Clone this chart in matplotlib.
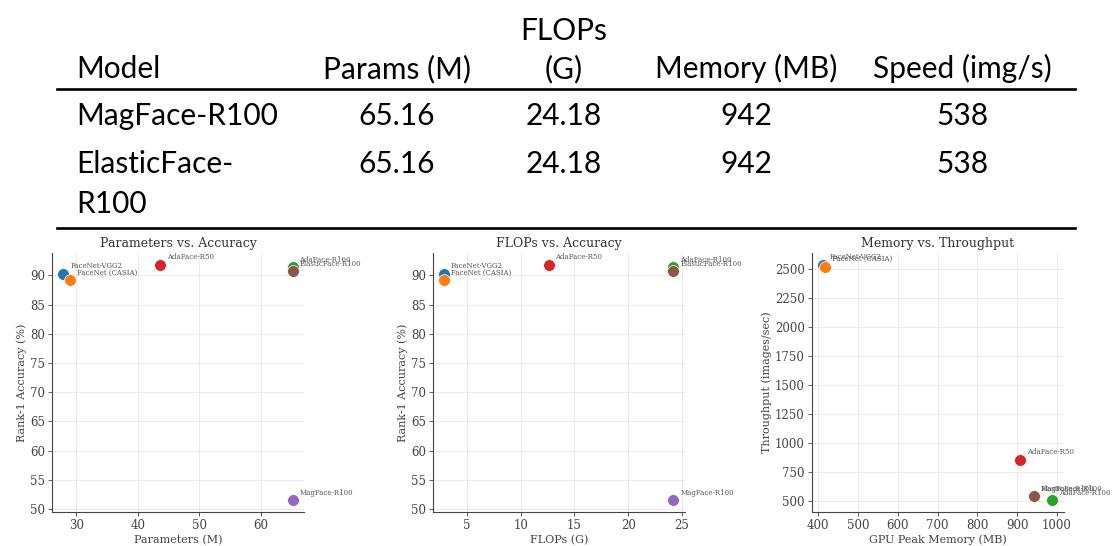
import matplotlib
matplotlib.use("Agg")
import matplotlib.pyplot as plt
from matplotlib.lines import Line2D

# model order follows the tab10 colour order in the plots
models = ['FaceNet-VGG2', 'FaceNet (CASIA)', 'AdaFace-R100', 'AdaFace-R50', 'MagFace-R100', 'ElasticFace-R100']
params = [27.9, 28.9, 65.16, 43.6, 65.16, 65.16]
flops = [2.9, 2.9, 24.18, 12.6, 24.18, 24.18]
accuracy = [90.3, 89.2, 91.4, 91.8, 51.5, 90.7]
memory = [413, 418, 988, 908, 942, 942]
throughput = [2537, 2520, 503, 853, 538, 538]

# table at the top
table_header = ['Model', 'Params (M)', 'FLOPs\n(G)', 'Memory (MB)', 'Speed (img/s)']
table_rows = [['MagFace-R100', '65.16', '24.18', '942', '538'],
              ['ElasticFace-\nR100', '65.16', '24.18', '942', '538']]

W, H = 1117, 546
fig = plt.figure(figsize=(W / 100, H / 100), dpi=100)

tfont = dict(family=['Lato', 'DejaVu Sans'], fontsize=21.5, color='black')
col_x = [76, 397, 564, 746, 962]


def fx(px):
    return px / W


def fy(py):
    return 1 - py / H


# header: last line of each cell on the same baseline
for i, txt in enumerate(table_header):
    ha = 'left' if i == 0 else 'center'
    lines = txt.split('\n')
    for k, ln in enumerate(reversed(lines)):
        fig.text(fx(col_x[i]), fy(78 - 38 * k), ln, ha=ha, va='baseline', **tfont)

row_base = [125, 173]
for r, row in enumerate(table_rows):
    for i, txt in enumerate(row):
        ha = 'left' if i == 0 else 'center'
        for k, ln in enumerate(txt.split('\n')):
            fig.text(fx(col_x[i]), fy(row_base[r] + 40 * k), ln, ha=ha, va='baseline', **tfont)

for ypx in [89, 228]:
    fig.add_artist(Line2D([fx(57), fx(1075)], [fy(ypx), fy(ypx)], transform=fig.transFigure,
                          color='black', lw=1.9))

# scatter plots
plt.rcParams['font.family'] = 'DejaVu Serif'
colors = plt.cm.tab10.colors

panels = [
    (params, accuracy, 'Parameters vs. Accuracy', 'Parameters (M)', 'Rank-1 Accuracy (%)', 52),
    (flops, accuracy, 'FLOPs vs. Accuracy', 'FLOPs (G)', 'Rank-1 Accuracy (%)', 432.7),
    (memory, throughput, 'Memory vs. Throughput', 'GPU Peak Memory (MB)', 'Throughput (images/sec)', 811.7),
]

for xs, ys, title, xlabel, ylabel, left in panels:
    ax = fig.add_axes([fx(left), fy(512), 252 / W, (512 - 253) / H])
    for j, m in enumerate(models):
        ax.scatter(xs[j], ys[j], s=72, color=colors[j], edgecolor='white', linewidth=0.5, zorder=3)
        ax.annotate(m, (xs[j], ys[j]), xytext=(5, 4), textcoords='offset points',
                    fontsize=5, color='#555555')
    ax.set_title(title, fontsize=9, color='#333333', pad=4)
    ax.set_xlabel(xlabel, fontsize=8, color='#444444', labelpad=2)
    ax.set_ylabel(ylabel, fontsize=8, color='#444444', labelpad=2)
    ax.tick_params(labelsize=8.5, colors='#444444', length=3, width=0.6, pad=2)
    ax.grid(True, color='#dddddd', linewidth=0.6, alpha=0.7)
    ax.set_axisbelow(True)
    ax.spines['top'].set_visible(False)
    ax.spines['right'].set_visible(False)
    for sp in ['left', 'bottom']:
        ax.spines[sp].set_color('#444444')
        ax.spines[sp].set_linewidth(0.8)

fig.savefig('out.png', dpi=100)
